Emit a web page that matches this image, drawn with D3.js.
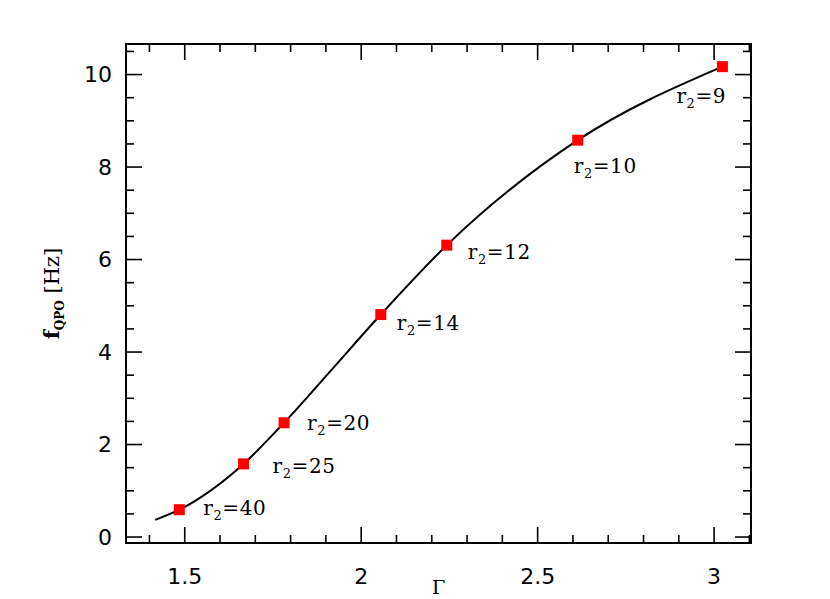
<!DOCTYPE html>
<html>
<head>
<meta charset="utf-8">
<script src="https://cdn.jsdelivr.net/npm/d3@7"></script>
<style>
  body { margin: 0; background: #fff; }
  svg { display: block; }
</style>
</head>
<body>
<svg id="chart" width="830" height="599"></svg>
<script>
// model points (Gamma, f_QPO) and their r2 labels
var gammaVals = [1.486, 1.668, 1.783, 2.057, 2.244, 2.615, 3.025];
var freqVals  = [0.58, 1.57, 2.46, 4.80, 6.30, 8.57, 10.16];
var r2Labels  = ['40', '25', '20', '14', '12', '10', '9'];

// knots of the smooth curve
var curveGamma = [1.418, 1.486, 1.668, 1.783, 1.918, 2.057, 2.244, 2.615, 3.025];
var curveFreq  = [0.36, 0.58, 1.57, 2.46, 3.61, 4.80, 6.30, 8.57, 10.16];

var xMajor = [1.5, 2, 2.5, 3];
var yMajor = [0, 2, 4, 6, 8, 10];

// label offsets from each point (px), layout only
var labelDx = [24, 29, 23, 16, 21, -4, -46];
var labelDy = [5, 9, 7, 15, 14, 33, 36];

var svg = d3.select('#chart');
var L = 126, T = 44, R = 751, B = 543;

var x = d3.scaleLinear().domain([1.335, 3.106]).range([L, R]);
var y = d3.scaleLinear().domain([-0.14, 10.65]).range([B, T]);

var xMinor = d3.range(14, 32).map(function (d) { return d / 10; })
  .filter(function (d) { return xMajor.indexOf(d) < 0; });
var yMinor = d3.range(0, 22).map(function (d) { return d / 2; })
  .filter(function (d) { return yMajor.indexOf(d) < 0; });

var tickFont = '"DejaVu Sans", sans-serif';
var serif = '"DejaVu Serif", serif';

function axis(gen, pos, major, minor, labels) {
  var g = svg.append('g').attr('transform', pos);
  g.call(gen.tickValues(minor).tickSize(8).tickFormat(''));
  var g2 = svg.append('g').attr('transform', pos);
  g2.call(gen.tickValues(major).tickSize(16).tickFormat(labels ? d3.format('') : ''));
  [g, g2].forEach(function (s) {
    s.select('.domain').remove();
    s.selectAll('line').attr('stroke', '#000').attr('stroke-width', 1.6);
  });
  g2.selectAll('text').attr('font-family', tickFont).attr('font-size', 22).attr('fill', '#000');
  return g2;
}

// inward ticks: use the opposite-side generators
var gb = axis(d3.axisTop(x), 'translate(0,' + B + ')', xMajor, xMinor, true);
gb.selectAll('text').attr('y', 25).attr('dy', '0.71em');
axis(d3.axisBottom(x), 'translate(0,' + T + ')', xMajor, xMinor, false);
var gl = axis(d3.axisRight(y), 'translate(' + L + ',0)', yMajor, yMinor, true);
gl.selectAll('text').attr('x', -14).attr('text-anchor', 'end').attr('dy', '0.36em');
axis(d3.axisLeft(y), 'translate(' + R + ',0)', yMajor, yMinor, false);

svg.append('rect')
  .attr('x', L).attr('y', T).attr('width', R - L).attr('height', B - T)
  .attr('fill', 'none').attr('stroke', '#000').attr('stroke-width', 2);

// curve
var line = d3.line()
  .x(function (d, i) { return x(curveGamma[i]); })
  .y(function (d, i) { return y(curveFreq[i]); })
  .curve(d3.curveMonotoneX);
svg.append('path')
  .datum(curveGamma)
  .attr('d', line)
  .attr('fill', 'none').attr('stroke', '#000').attr('stroke-width', 2);

// red squares
svg.selectAll('rect.pt').data(gammaVals).enter().append('rect')
  .attr('class', 'pt')
  .attr('x', function (d) { return x(d) - 5.5; })
  .attr('y', function (d, i) { return y(freqVals[i]) - 5.5; })
  .attr('width', 11).attr('height', 11)
  .attr('fill', '#ff0000');

// r2 labels
var lab = svg.selectAll('text.lab').data(r2Labels).enter().append('text')
  .attr('class', 'lab')
  .attr('x', function (d, i) { return x(gammaVals[i]) + labelDx[i]; })
  .attr('y', function (d, i) { return y(freqVals[i]) + labelDy[i]; })
  .attr('font-family', serif).attr('font-size', 20).attr('fill', '#000')
  .attr('letter-spacing', 0.6);
lab.append('tspan').text('r');
lab.append('tspan').attr('font-size', 13).attr('dy', 5).text('2');
lab.append('tspan').attr('dy', -5).text(function (d) { return '=' + d; });

// axis titles
var yt = svg.append('text')
  .attr('transform', 'translate(59,' + ((T + B) / 2) + ') rotate(-90)')
  .attr('text-anchor', 'middle')
  .attr('font-family', serif).attr('font-size', 21).attr('fill', '#000');
yt.append('tspan').attr('font-weight', 'bold').text('f');
yt.append('tspan').attr('font-size', 12).attr('font-weight', 'bold').attr('dy', 5).text('QPO');
yt.append('tspan').attr('dy', -5).text('\u00a0[Hz]');

svg.append('text')
  .attr('x', (L + R) / 2).attr('y', 594)
  .attr('text-anchor', 'middle')
  .attr('font-family', serif).attr('font-size', 19).attr('fill', '#000')
  .text('\u0393');
</script>
</body>
</html>
